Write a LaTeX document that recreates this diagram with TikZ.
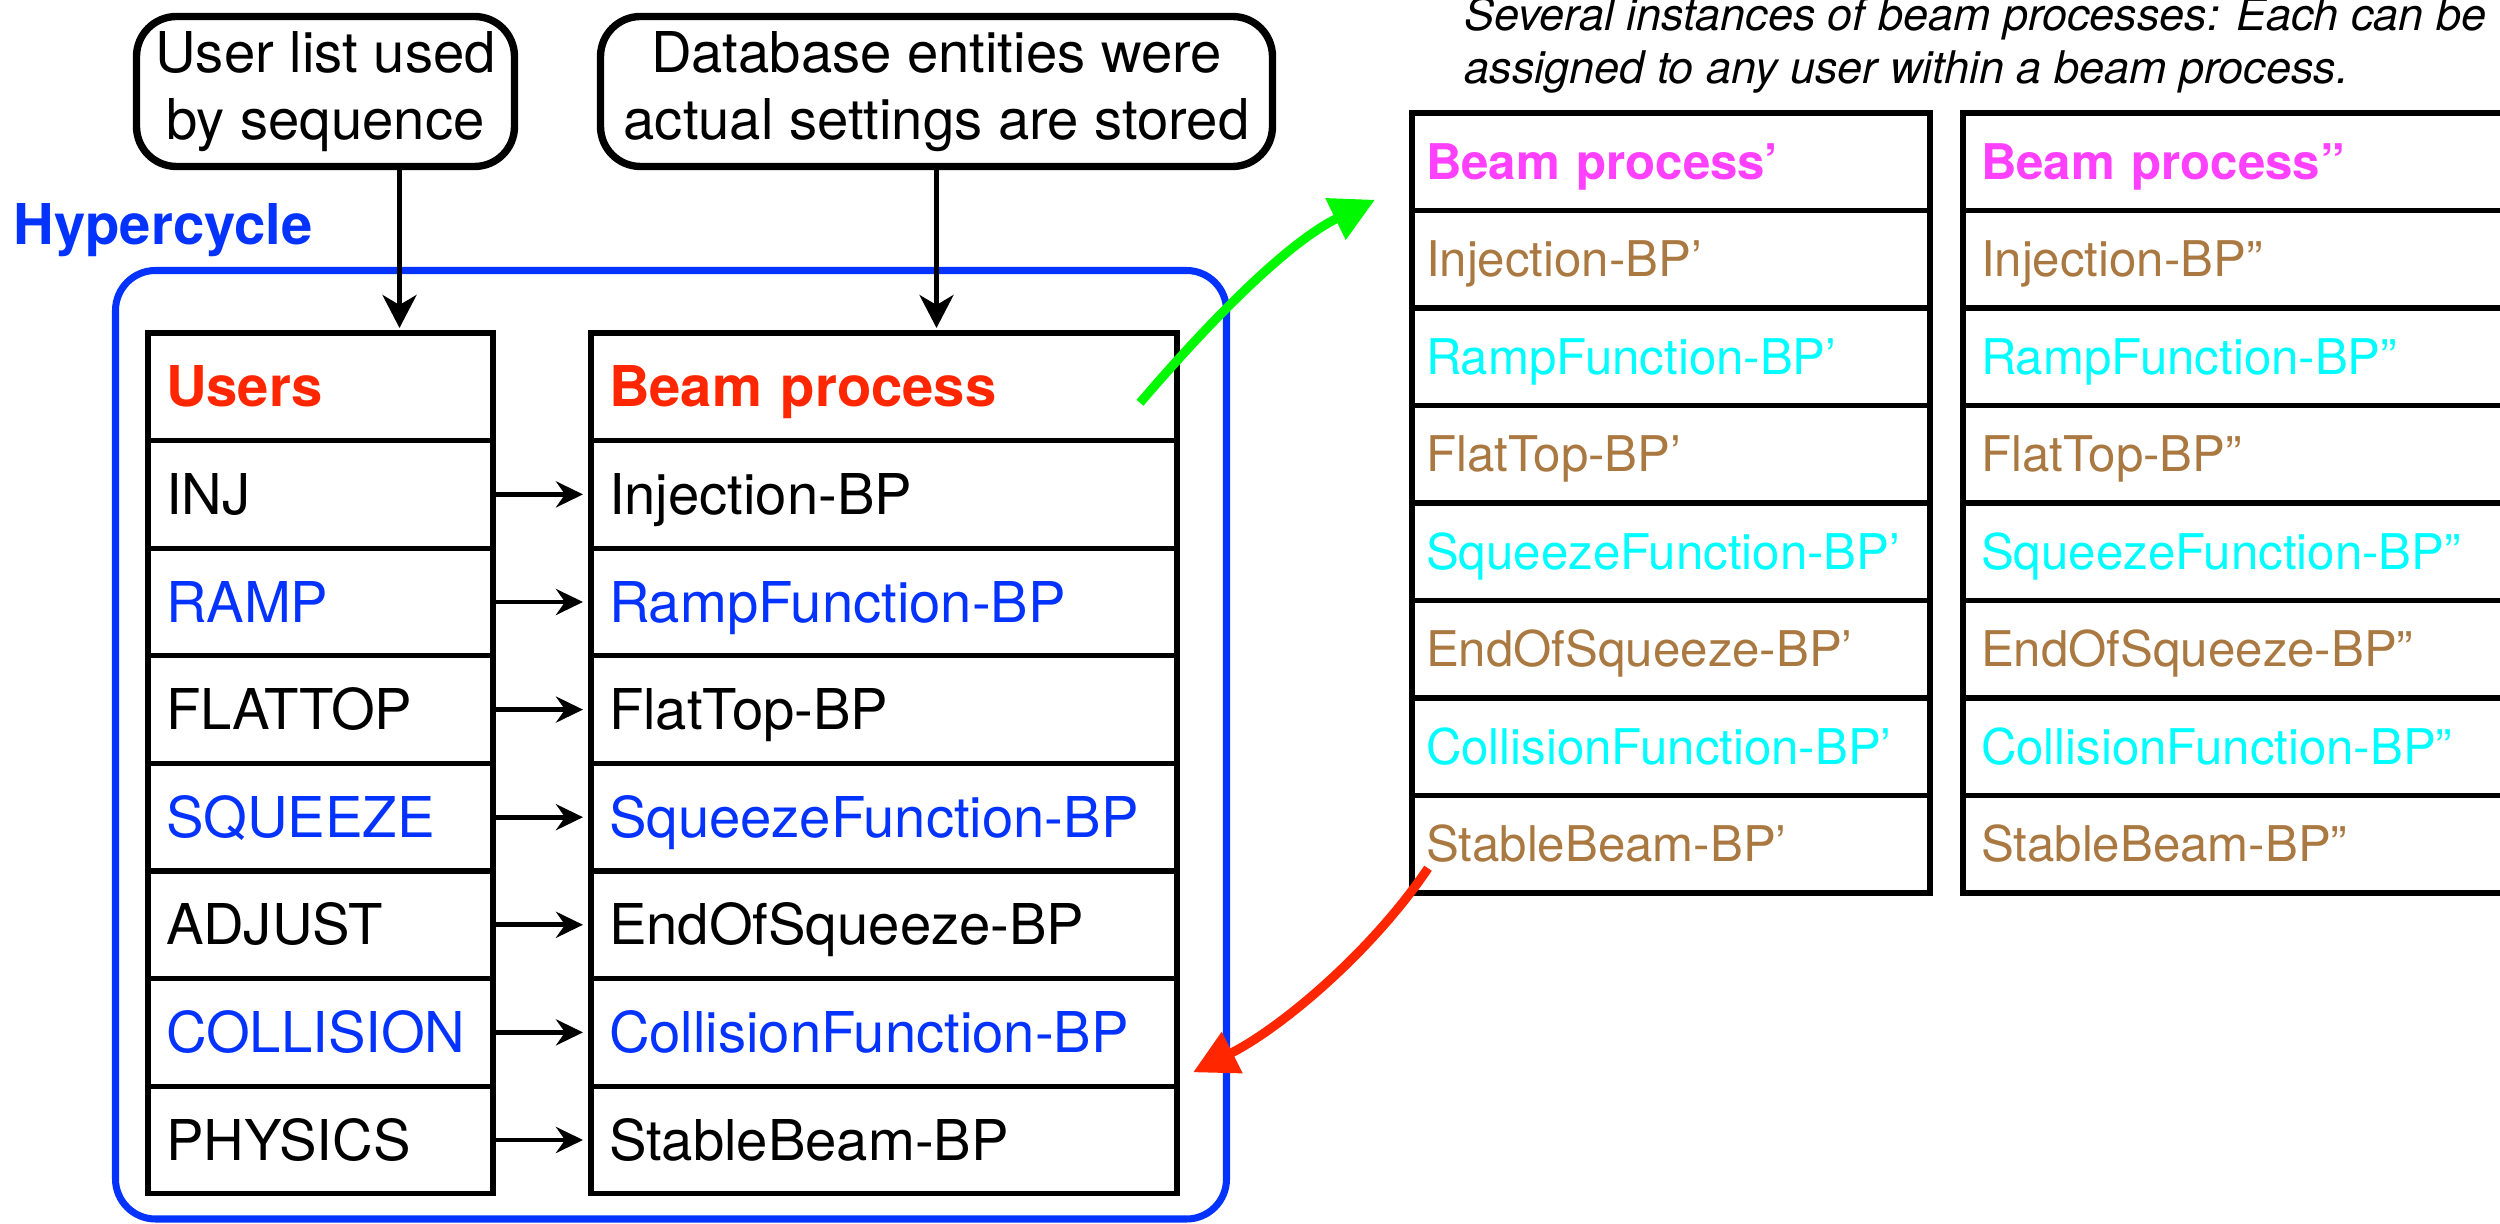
\documentclass[tikz,border=0pt]{standalone}
\usepackage{fontspec}
\setmainfont{TeX Gyre Heros}
\usetikzlibrary{arrows.meta,positioning}
\definecolor{kblue}{HTML}{0433FF}
\definecolor{kred}{HTML}{FF2600}
\definecolor{kmagenta}{HTML}{FF40FF}
\definecolor{kcyan}{HTML}{00FDFF}
\definecolor{kbrown}{HTML}{AA7942}
\definecolor{kgreen}{HTML}{00F900}

\begin{document}
\begin{tikzpicture}[x=0.1mm, y=-0.1mm,
    big/.style={font=\fontsize{16}{19}\selectfont},
    small/.style={font=\fontsize{14}{15}\selectfont},
    note/.style={draw, line width=2.1pt, rounded corners=4mm, align=center, big},
    cell/.style={draw, line width=1.5pt, outer sep=0pt, align=left, inner ysep=0pt, text depth=0pt},
    ucell/.style={cell, big, text width=30.9mm, inner xsep=1.8mm, minimum height=10.76mm, text height=11.5pt},
    bcell/.style={cell, big, text width=55mm, inner xsep=1.8mm, minimum height=10.76mm, text height=11.5pt},
    pcell/.style={cell, small, text width=49mm, inner xsep=1.4mm, minimum height=9.75mm, text height=10pt},
    qcell/.style={cell, small, text width=53.4mm, inner xsep=1.8mm, minimum height=9.75mm, text height=10pt},
    harr/.style={-{Stealth[length=2.7mm,width=2.6mm,inset=0.9mm]}, line width=1.4pt, shorten >=0.8mm},
    varr/.style={-{Stealth[length=3.3mm,width=3.4mm,inset=1mm]}, line width=1.3pt, shorten >=0.5mm},
    curvarr/.style={-{Triangle[length=4.4mm,width=4.4mm]}, line width=2.6pt},
]
    \useasboundingbox (0,0) rectangle (2500,1224);
    \clip (0,0) rectangle (2500,1224);

    % notes on top
    \node[note, minimum width=37.8mm, minimum height=15mm] (usrnote) at (325.5,91.5) {User list used\\by sequence};
    \node[note, minimum width=67.2mm, minimum height=15mm] (dbnote) at (936.5,91.5) {Database entities were\\actual settings are stored};

    % hypercycle frame
    \node[anchor=base west, inner sep=0pt, text=kblue, font=\fontsize{16}{19}\selectfont\bfseries] (hyplbl) at (13,245) {Hypercycle};
    \draw[kblue, line width=2pt, rounded corners=4mm] (115.5,270.5) rectangle (1226.5,1219);

    % users
    \node[ucell, text=kred, font=\fontsize{16}{19}\selectfont\bfseries] (usr) at (320.5,386.8) {Users};
    \node[ucell, below=0pt of usr] (uinj) {INJ};
    \node[ucell, text=kblue, below=0pt of uinj] (uramp) {RAMP};
    \node[ucell, below=0pt of uramp] (uflat) {FLATTOP};
    \node[ucell, text=kblue, below=0pt of uflat] (usqz) {SQUEEZE};
    \node[ucell, below=0pt of usqz] (uadj) {ADJUST};
    \node[ucell, text=kblue, below=0pt of uadj] (ucoll) {COLLISION};
    \node[ucell, below=0pt of ucoll] (uphys) {PHYSICS};

    % beam processes
    \node[bcell, text=kred, font=\fontsize{16}{19}\selectfont\bfseries] (bp) at (884,386.8) {Beam process};
    \node[bcell, below=0pt of bp] (binj) {Injection-BP};
    \node[bcell, text=kblue, below=0pt of binj] (bramp) {RampFunction-BP};
    \node[bcell, below=0pt of bramp] (bflat) {FlatTop-BP};
    \node[bcell, text=kblue, below=0pt of bflat] (bsqz) {SqueezeFunction-BP};
    \node[bcell, below=0pt of bsqz] (beos) {EndOfSqueeze-BP};
    \node[bcell, text=kblue, below=0pt of beos] (bcoll) {CollisionFunction-BP};
    \node[bcell, below=0pt of bcoll] (bstab) {StableBeam-BP};

    % other instances
    \node[anchor=north west, inner sep=0pt, align=left, font=\fontsize{12.8}{15}\selectfont\itshape] (caption) at (1464,-4)
        {Several instances of beam processes: Each can be\\assigned to any user within a beam process.};

    \node[pcell, text=kmagenta, font=\fontsize{14}{15}\selectfont\bfseries] (p1hdr) at (1671,161.75) {Beam process’};
    \node[pcell, text=kbrown, below=0pt of p1hdr] (p1inj) {Injection-BP’};
    \node[pcell, text=kcyan, below=0pt of p1inj] (p1ramp) {RampFunction-BP’};
    \node[pcell, text=kbrown, below=0pt of p1ramp] (p1flat) {FlatTop-BP’};
    \node[pcell, text=kcyan, below=0pt of p1flat] (p1sqz) {SqueezeFunction-BP’};
    \node[pcell, text=kbrown, below=0pt of p1sqz] (p1eos) {EndOfSqueeze-BP’};
    \node[pcell, text=kcyan, below=0pt of p1eos] (p1coll) {CollisionFunction-BP’};
    \node[pcell, text=kbrown, below=0pt of p1coll] (p1stab) {StableBeam-BP’};

    \node[qcell, text=kmagenta, font=\fontsize{14}{15}\selectfont\bfseries] (p2hdr) at (2248,161.75) {Beam process”};
    \node[qcell, text=kbrown, below=0pt of p2hdr] (p2inj) {Injection-BP”};
    \node[qcell, text=kcyan, below=0pt of p2inj] (p2ramp) {RampFunction-BP”};
    \node[qcell, text=kbrown, below=0pt of p2ramp] (p2flat) {FlatTop-BP”};
    \node[qcell, text=kcyan, below=0pt of p2flat] (p2sqz) {SqueezeFunction-BP”};
    \node[qcell, text=kbrown, below=0pt of p2sqz] (p2eos) {EndOfSqueeze-BP”};
    \node[qcell, text=kcyan, below=0pt of p2eos] (p2coll) {CollisionFunction-BP”};
    \node[qcell, text=kbrown, below=0pt of p2coll] (p2stab) {StableBeam-BP”};

    % arrows
    \coordinate (ua) at ([xshift=7.4mm]usrnote.south);
    \draw[varr] (ua) -- (ua |- usr.north);
    \draw[varr] (dbnote.south) -- (dbnote.south |- bp.north);

    \draw[harr] (uinj) -- (binj);
    \draw[harr] (uramp) -- (bramp);
    \draw[harr] (uflat) -- (bflat);
    \draw[harr] (usqz) -- (bsqz);
    \draw[harr] (uadj) -- (beos);
    \draw[harr] (ucoll) -- (bcoll);
    \draw[harr] (uphys) -- (bstab);

    \coordinate (gfrom) at ([xshift=-3.7mm,yshift=-1.6mm]bp.east);
    \coordinate (gto) at ([xshift=-3.7mm,yshift=-3.8mm]p1hdr.west);
    \draw[curvarr, kgreen] (gfrom) .. controls +(65,-76) and +(-90,44) .. (gto);

    \coordinate (rfrom) at ([xshift=1.6mm,yshift=-2.4mm]p1stab.west);
    \coordinate (rto) at ([xshift=1.6mm,yshift=-4mm]bcoll.east);
    \draw[curvarr, kred] (rfrom) .. controls +(-56,83) and +(89,-45) .. (rto);
\end{tikzpicture}
\end{document}
